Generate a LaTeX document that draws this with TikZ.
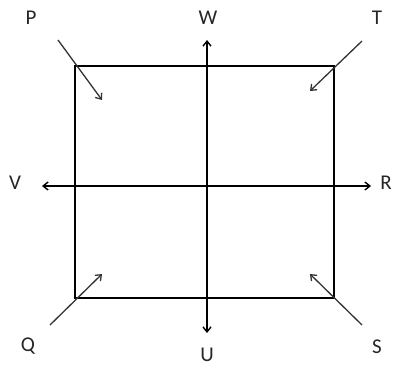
\documentclass[tikz,border=0pt]{standalone}
\usepackage{fontspec}
\setmainfont{Carlito}
\usetikzlibrary{arrows.meta,positioning,calc}

\begin{document}
\begin{tikzpicture}[
    x=1pt, y=-1pt,
    label/.style={font=\fontsize{21}{24}\selectfont, text=black!85, inner sep=0pt},
    frame/.style={line width=2.6pt, line join=miter},
    axis/.style={{Straight Barb[length=5pt,width=8pt]}-{Straight Barb[length=5pt,width=8pt]}, line width=1.4pt},
    pointer/.style={-{Straight Barb[length=5pt,width=8pt]}, line width=1.3pt, black!80},
]
\useasboundingbox (0,0) rectangle (395,367);
% square corners
\coordinate (tl) at (75,66);
\coordinate (tr) at (334,66);
\coordinate (br) at (334,298);
\coordinate (bl) at (75,298);
\draw[frame] (tl) -- (tr) -- (br) -- (bl) -- cycle;
% axis ends
\coordinate (wend) at (207,40);
\coordinate (uend) at (207,333);
\coordinate (vend) at (42,186);
\coordinate (rend) at (371,186);
\draw[axis] (uend) -- (wend);
\draw[axis] (vend) -- (rend);
% labels
\node[label] (p) at (31,18) {P};
\node[label] (t) at (377,18) {T};
\node[label] (q) at (28,346) {Q};
\node[label] (s) at (377,347) {S};
\node[label] (w) at (208,18) {W};
\node[label] (u) at (207,355) {U};
\node[label] (v) at (15,183) {V};
\node[label] (r) at (386,183) {R};
% corner pointers
\coordinate (pfrom) at (58,40);   \coordinate (pto) at (102,100);
\coordinate (tfrom) at (362,41);  \coordinate (tto) at (310,91);
\coordinate (qfrom) at (50,325);  \coordinate (qto) at (102,274);
\coordinate (sfrom) at (362,325); \coordinate (sto) at (310,274);
\draw[pointer] (pfrom) -- (pto);
\draw[pointer] (tfrom) -- (tto);
\draw[pointer] (qfrom) -- (qto);
\draw[pointer] (sfrom) -- (sto);
\end{tikzpicture}
\end{document}
